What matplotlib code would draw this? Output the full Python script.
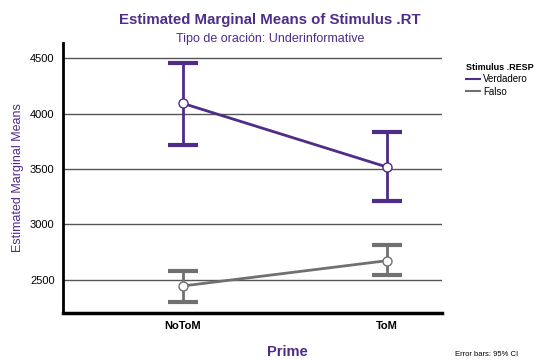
import matplotlib
matplotlib.use("Agg")
import matplotlib.pyplot as plt
from matplotlib.lines import Line2D
from matplotlib import font_manager

names = {f.name for f in font_manager.fontManager.ttflist}
base = 'Liberation Sans Narrow' if 'Liberation Sans Narrow' in names else 'Liberation Sans'
plt.rcParams['font.family'] = [base, 'DejaVu Sans']

categories = ["NoToM", "ToM"]
series = ["Verdadero", "Falso"]
means = {"Verdadero": [4094, 3518], "Falso": [2442, 2671]}
ci_low = {"Verdadero": [3714, 3208], "Falso": [2295, 2539]}
ci_high = {"Verdadero": [4456, 3832], "Falso": [2575, 2813]}
yticks = [2500, 3000, 3500, 4000, 4500]

purple = "#4E2C88"
grey = "#707070"
colors = {"Verdadero": purple, "Falso": grey}

fig = plt.figure(figsize=(5.41, 3.6), dpi=100)
ax = fig.add_axes([63/541, 1-313/360, (442-63)/541, (313-43)/360])

x = list(range(len(categories)))
for s in series:
    c = colors[s]
    m = means[s]
    lo = [m[i] - ci_low[s][i] for i in range(len(m))]
    hi = [ci_high[s][i] - m[i] for i in range(len(m))]
    ax.errorbar(x, m, yerr=[lo, hi], fmt='none', ecolor=c, elinewidth=2,
                capsize=10.8, capthick=3, zorder=3)
    ax.plot(x, m, color=c, lw=2, zorder=4)
    ax.plot(x, m, 'o', ms=6.5, mfc='white', mec=c, mew=1, zorder=5)

ax.set_xlim(-0.585, 1.27)
ax.set_ylim(2198, 4639)
ax.set_yticks(yticks)
ax.set_yticklabels([str(t) for t in yticks], fontsize=8)
ax.set_xticks(x)
ax.set_xticklabels(categories, fontsize=8, fontweight='bold')
ax.tick_params(length=0, pad=6)
for t in yticks:
    ax.axhline(t, color='#555555', lw=1, zorder=1)
for sp in ['top', 'right']:
    ax.spines[sp].set_visible(False)
ax.spines['left'].set_linewidth(2)
ax.spines['bottom'].set_linewidth(2.5)

fig.text(270/541, 1-20/360, "Estimated Marginal Means of Stimulus .RT", ha='center', va='center',
         fontsize=10.8, fontweight='bold', color=purple)
fig.text(270/541, 1-39/360, "Tipo de oración: Underinformative", ha='center', va='center',
         fontsize=9, color=purple)
fig.text(18/541, 1-178/360, "Estimated Marginal Means", rotation=90, ha='center', va='center',
         fontsize=9, color=purple)
fig.text(287/541, 1-352/360, "Prime", ha='center', va='center', fontsize=10.5,
         fontweight='bold', color=purple)
fig.text(487/541, 1-354/360, "Error bars: 95% CI", ha='center', va='center', fontsize=5.5)

handles = [Line2D([0], [0], color=colors[s], lw=1.5) for s in series]
leg = fig.legend(handles, series, loc='upper left', bbox_to_anchor=(461/541, 1-58/360),
                 frameon=False, title="Stimulus .RESP", fontsize=7, handlelength=1.5,
                 handletextpad=0.3, labelspacing=0.25, borderpad=0, alignment='left')
leg.get_title().set_fontweight('bold')
leg.get_title().set_fontsize(6.5)

fig.savefig("out.png", dpi=100)
